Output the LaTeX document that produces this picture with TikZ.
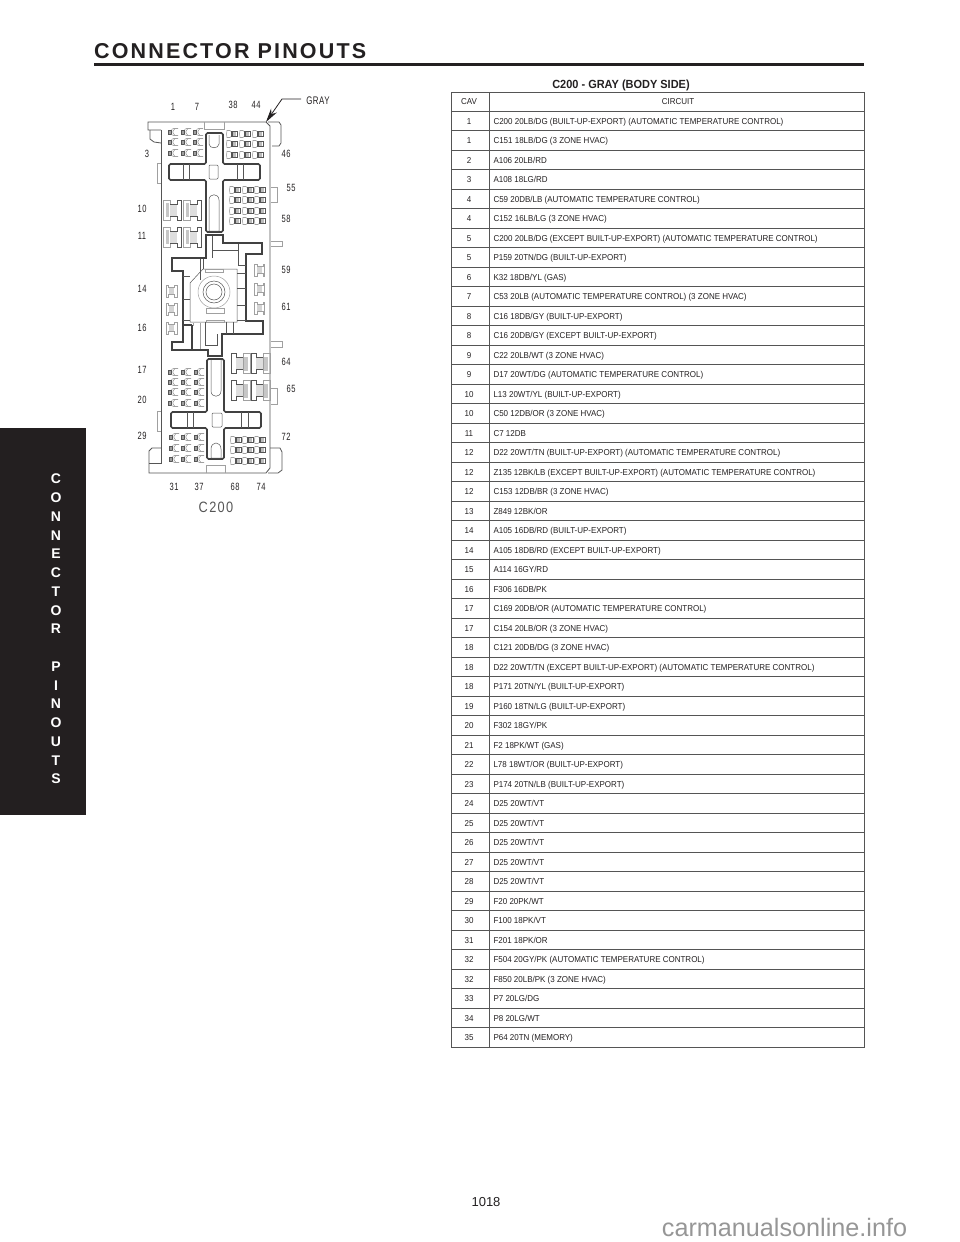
\documentclass[tikz,border=0pt]{standalone}
\usepackage{fontspec}
\usetikzlibrary{arrows.meta}
\setmainfont{Liberation Sans}
\newfontfamily\headfont[LetterSpace=10]{Liberation Sans}
\newfontfamily\narrowfont[FakeStretch=0.93]{Liberation Sans}
\newfontfamily\pinfont[FakeStretch=0.72,LetterSpace=5]{Liberation Sans}
\newfontfamily\wordfont[FakeStretch=0.85,LetterSpace=9]{Liberation Sans}
\definecolor{sidebar}{RGB}{35,31,32}
\definecolor{inkdark}{RGB}{35,32,33}
\definecolor{plastic}{RGB}{160,160,160}
\definecolor{housing}{RGB}{85,85,85}
\definecolor{wallthick}{RGB}{65,65,65}
\definecolor{watermark}{RGB}{150,150,150}
\tikzset{
    lowpin/.pic={
        \fill[plastic] (-5,-2.2) rectangle (-1.5,2.2);
        \draw[housing, line width=0.4] (-5,-2.2) rectangle (-1.5,2.2);
        \draw[plastic, line width=0.6] (-1.5,-2.5) -- (0.5,-3.5) -- (5,-3.5) (5,3.5) -- (0.5,3.5) -- (-1.5,2.5);
        \draw[plastic, line width=0.6] (2,-3.5) -- (0,-1) -- (0,1) -- (2,3.5);
    },
    boxpin/.pic={
        \draw[plastic, line width=0.6] (-1,-2.5) -- (-2,-3.5) -- (-5,-3.5) -- (-5.5,0) -- (-5,3.5) -- (-2,3.5) -- (-1,2.5);
        \fill[plastic!70] (0,-2) rectangle (3.5,2);
        \draw[housing, line width=0.5] (-1,-2.5) rectangle (5,2.5);
        \draw[housing, line width=0.5] (0.5,-2.5) -- (0.5,2.5);
    },
    fusepin/.pic={
        \draw[plastic, line width=0.6] (-9,-10) rectangle (-2,10);
        \fill[plastic!60] (-6.5,-7) rectangle (-3,7);
        \fill[plastic!35] (-2,-6) rectangle (5,6);
        \draw[housing, line width=0.6] (-2,-6) -- (5,-6) -- (5,-10) -- (9.5,-10) -- (9.5,10) -- (5,10) -- (5,6) -- (-2,6);
    },
    clippin/.pic={
        \fill[plastic!45] (-3,-3.5) rectangle (2,3.5);
        \draw[plastic, line width=0.7] (-5.5,-6) -- (-4,-6) -- (-4,-3.5) -- (2,-3.5) -- (2,-6) -- (5,-6) -- (5,6) -- (2,6) -- (2,3.5) -- (-4,3.5) -- (-4,6) -- (-5.5,6) -- cycle;
    }
}

\begin{document}
\begin{tikzpicture}[
    x=1pt, y=-1pt,
    wall/.style={housing, line width=0.8},
    rib/.style={wallthick, line width=1.6},
    thinrib/.style={housing, line width=0.5},
    tabline/.style={plastic, line width=0.7},
    pinlabel/.style={font=\pinfont\fontsize{10.5}{11}\selectfont, text=inkdark, inner sep=0pt},
    cell/.style={font=\narrowfont\fontsize{8.6}{9}\selectfont, text=inkdark, inner sep=0pt, text height=6.2pt, text depth=0pt},
    rule/.style={housing, line width=1}
]
    \useasboundingbox (0,0) rectangle (960,1242);

    % Page head
    \node[font=\headfont\bfseries\fontsize{21.5}{22}\selectfont, text=inkdark, anchor=base west, inner sep=0pt] (head) at (94,58) {CONNECTOR PINOUTS};
    \fill[inkdark] (94,62.5) rectangle (864,65.5);

    % Side tab
    \fill[sidebar] (0,428) rectangle (86,815);
    \foreach \letter [count=\i] in {C,O,N,N,E,C,T,O,R,{},P,I,N,O,U,T,S}
        \node[font=\bfseries\fontsize{14}{14}\selectfont, text=white, inner sep=0pt] (side\i) at (56,460.25+18.75*\i) {\letter};

    % Housing outline
    \draw[wall] (161,130) -- (148,130) -- (148,122) -- (266,122) -- (270,126) -- (270,468) -- (266,473) -- (149,473) -- (149,451) -- (152,448) -- (161,448);
    \draw[wall] (161,130) -- (161,463) -- (149,463);
    \draw[wall] (150,130) -- (150,139) -- (154,142) -- (161,143);

    % Tabs on the housing
    \draw[wall] (268,122) -- (279,122) -- (281,125) -- (281,143) -- (279,146) -- (272,146);
    \draw[wall] (270,448) -- (280,448) -- (282,452) -- (282,470) -- (278,473) -- (268,473);
    \draw[tabline] (204,122) -- (204,129) -- (224,129) -- (224,122);
    \draw[tabline] (206,473) -- (206,465) -- (225,465) -- (225,473);
    \draw[tabline] (161,163) -- (157,163) -- (157,183) -- (161,183);
    \draw[tabline] (161,411) -- (157,411) -- (157,431) -- (161,431);
    \draw[tabline] (271,187) -- (277,187) -- (277,202) -- (271,202);
    \draw[tabline] (271,241) -- (282,241) -- (282,246) -- (271,246);
    \draw[tabline] (271,341) -- (282,341) -- (282,347) -- (271,347);
    \draw[tabline] (271,388) -- (277,388) -- (277,404) -- (271,404);

    % Upper cross
    \draw[rib, rounded corners=1.5] (206,133) -- (223,133) -- (223,164) -- (260,164) -- (260,180) -- (223,180) -- (223,232) -- (206,232) -- (206,180) -- (169,180) -- (169,164) -- (206,164) -- cycle;
    \draw[thinrib] (209,135) -- (209,144) .. controls (209,149) and (219,149) .. (219,144) -- (219,135);
    \draw[thinrib, rounded corners=1] (209,165) rectangle (218,179);
    \draw[thinrib] (209,231) -- (209,200) .. controls (209,193) and (219,193) .. (219,200) -- (219,231) -- cycle;
    \draw[thinrib] (183,164) -- (183,180) (189,164) -- (189,180) (237,164) -- (237,180) (243,164) -- (243,180);

    % Lower cross
    \draw[rib, rounded corners=1.5] (207,359) -- (224,359) -- (224,412) -- (261,412) -- (261,428) -- (224,428) -- (224,459) -- (207,459) -- (207,428) -- (171,428) -- (171,412) -- (207,412) -- cycle;
    \draw[thinrib] (211,360) -- (211,391) .. controls (211,398) and (221,398) .. (221,391) -- (221,360);
    \draw[thinrib, rounded corners=1] (212,413) rectangle (222,427);
    \draw[thinrib] (211,458) -- (211,449) .. controls (211,441) and (221,441) .. (221,449) -- (221,458) -- cycle;
    \draw[thinrib] (187,412) -- (187,428) (193,412) -- (193,428) (241,412) -- (241,428) (248,412) -- (248,428);

    % Middle ribs
    \draw[rib] (183,300) -- (183,271) -- (172,271) -- (172,258) -- (206,258) -- (206,235) -- (223,235) -- (223,243) -- (262,243) -- (262,254) -- (246,254) -- (246,321) -- (263,321) -- (263,334) -- (222,334) -- (222,356) -- (208,356) -- (208,350) -- (172,350) -- (172,342) -- (183,342) -- (183,300);
    \draw[rib] (183,325) -- (192,325);
    \draw[rib] (192,325) -- (192,349);
    \draw[thinrib] (238,244) -- (238,265) -- (246,265);
    \draw[thinrib] (212,236) -- (212,250) -- (238,250);
    \draw[thinrib] (200,259) -- (200,280) (203,259) -- (203,269);
    \draw[thinrib] (212,250) -- (212,258);

    % Centre block
    \draw[thinrib] (190,283) -- (203,269) -- (237,269) -- (237,322) -- (190,322) -- cycle;
    \draw[thinrib, plastic] (214,292) circle (16pt);
    \draw[thinrib] (214,292) circle (11pt);
    \draw[thinrib] (214,292) circle (8pt);
    \draw[tabline] (205,269) rectangle (223,272);
    \draw[tabline] (206,308) rectangle (224,313);
    \draw[tabline] (206,320) rectangle (224,322);
    \draw[thinrib] (183,276) -- (190,276) (183,299) -- (190,299) (183,320) -- (190,320);
    \draw[thinrib] (237,273) -- (246,273) (237,288) -- (246,288) (237,305) -- (246,305) (237,320) -- (246,320);
    \draw[thinrib] (205,322) -- (205,345) -- (217,345) -- (217,334);
    \draw[tabline] (200,323) -- (200,349) (193,323) -- (193,326);
    \draw[thinrib] (226,322) -- (226,334) (233,322) -- (233,334);

    % Cavities
    \foreach \px in {173,186,198}
        \foreach \py in {132,142,153}
            \pic at (\px,\py) {lowpin};
    \foreach \px in {232,245,258}
        \foreach \py in {134,144,155}
            \pic at (\px,\py) {boxpin};
    \foreach \px in {235,248,260}
        \foreach \py in {190,200,211,221}
            \pic at (\px,\py) {boxpin};
    \foreach \px in {173,186,199}
        \foreach \py in {372,382,392,403}
            \pic at (\px,\py) {lowpin};
    \foreach \px in {174,186,199}
        \foreach \py in {437,448,459}
            \pic at (\px,\py) {lowpin};
    \foreach \px in {236,248,260}
        \foreach \py in {440,450,461}
            \pic at (\px,\py) {boxpin};
    \foreach \px in {172,192}
        \foreach \py in {210,237}
            \pic at (\px,\py) {fusepin};
    \foreach \px in {241,261}
        \foreach \py in {363.5,390.5}
            \pic[xscale=-1] at (\px,\py) {fusepin};
    \foreach \py in {291,309,328}
        \pic at (172,\py) {clippin};
    \foreach \py in {270,289,308}
        \pic[xscale=-1] at (259,\py) {clippin};

    % Cavity numbers
    \foreach \txt/\px/\py [count=\i] in {1/173/107,7/197/107,38/233/105,44/256/105,3/147/154,46/286/154,55/291/188,58/286/219,10/142/209,11/142/236,59/286/270,14/142/289,61/286/307,16/142/328,64/286/362,17/142/370,65/291/389,20/142/400,72/286/437,29/142/436,31/174/487,37/199/487,68/235/487,74/261/487}
        \node[pinlabel] (cavnum\i) at (\px,\py) {\txt};
    \node[font=\wordfont\fontsize{15}{15}\selectfont, text=housing, inner sep=0pt] (partname) at (216,507) {C200};

    % Colour callout
    \node[font=\pinfont\fontsize{11}{11}\selectfont, text=inkdark, inner sep=0pt] (colour) at (318,101) {GRAY};
    \coordinate (calloutelbow) at (282,99);
    \coordinate (callouttip) at (266,122);
    \draw[inkdark, line width=0.8, -{Stealth[length=14pt, width=7pt]}] (colour.west) ++(-5,-2) -- (calloutelbow) -- (callouttip);

    % Table
    \node[font=\narrowfont\bfseries\fontsize{11.8}{12}\selectfont, text=inkdark, inner sep=0pt] (tabletitle) at (621,85) {C200 - GRAY (BODY SIDE)};
    \foreach \k in {0,...,48}
        \draw[rule] (451,111.3+19.5*\k) -- (864,111.3+19.5*\k);
    \draw[rule] (451,92.3) rectangle (864,1047.3);
    \draw[rule] (489,92.3) -- (489,1047.3);
    \node[cell] (cavhead) at (469,101.5) {CAV};
    \node[cell] (circuithead) at (678,101.5) {CIRCUIT};
    \foreach \cav/\circuit [count=\r] in {
        1/{C200 20LB/DG (BUILT-UP-EXPORT) (AUTOMATIC TEMPERATURE CONTROL)},
        1/{C151 18LB/DG (3 ZONE HVAC)},
        2/{A106 20LB/RD},
        3/{A108 18LG/RD},
        4/{C59 20DB/LB (AUTOMATIC TEMPERATURE CONTROL)},
        4/{C152 16LB/LG (3 ZONE HVAC)},
        5/{C200 20LB/DG (EXCEPT BUILT-UP-EXPORT) (AUTOMATIC TEMPERATURE CONTROL)},
        5/{P159 20TN/DG (BUILT-UP-EXPORT)},
        6/{K32 18DB/YL (GAS)},
        7/{C53 20LB (AUTOMATIC TEMPERATURE CONTROL) (3 ZONE HVAC)},
        8/{C16 18DB/GY (BUILT-UP-EXPORT)},
        8/{C16 20DB/GY (EXCEPT BUILT-UP-EXPORT)},
        9/{C22 20LB/WT (3 ZONE HVAC)},
        9/{D17 20WT/DG (AUTOMATIC TEMPERATURE CONTROL)},
        10/{L13 20WT/YL (BUILT-UP-EXPORT)},
        10/{C50 12DB/OR (3 ZONE HVAC)},
        11/{C7 12DB},
        12/{D22 20WT/TN (BUILT-UP-EXPORT) (AUTOMATIC TEMPERATURE CONTROL)},
        12/{Z135 12BK/LB (EXCEPT BUILT-UP-EXPORT) (AUTOMATIC TEMPERATURE CONTROL)},
        12/{C153 12DB/BR (3 ZONE HVAC)},
        13/{Z849 12BK/OR},
        14/{A105 16DB/RD (BUILT-UP-EXPORT)},
        14/{A105 18DB/RD (EXCEPT BUILT-UP-EXPORT)},
        15/{A114 16GY/RD},
        16/{F306 16DB/PK},
        17/{C169 20DB/OR (AUTOMATIC TEMPERATURE CONTROL)},
        17/{C154 20LB/OR (3 ZONE HVAC)},
        18/{C121 20DB/DG (3 ZONE HVAC)},
        18/{D22 20WT/TN (EXCEPT BUILT-UP-EXPORT) (AUTOMATIC TEMPERATURE CONTROL)},
        18/{P171 20TN/YL (BUILT-UP-EXPORT)},
        19/{P160 18TN/LG (BUILT-UP-EXPORT)},
        20/{F302 18GY/PK},
        21/{F2 18PK/WT (GAS)},
        22/{L78 18WT/OR (BUILT-UP-EXPORT)},
        23/{P174 20TN/LB (BUILT-UP-EXPORT)},
        24/{D25 20WT/VT},
        25/{D25 20WT/VT},
        26/{D25 20WT/VT},
        27/{D25 20WT/VT},
        28/{D25 20WT/VT},
        29/{F20 20PK/WT},
        30/{F100 18PK/VT},
        31/{F201 18PK/OR},
        32/{F504 20GY/PK (AUTOMATIC TEMPERATURE CONTROL)},
        32/{F850 20LB/PK (3 ZONE HVAC)},
        33/{P7 20LG/DG},
        34/{P8 20LG/WT},
        35/{P64 20TN (MEMORY)}}
    {
        \node[cell] (cav\r) at (469,101.55+19.5*\r) {\cav};
        \node[cell, anchor=west] (circuit\r) at (493.3,101.55+19.5*\r) {\circuit};
    }

    % Page foot
    \node[font=\fontsize{13}{13}\selectfont, text=inkdark, inner sep=0pt] (pageno) at (486,1202) {1018};
    \node[font=\fontsize{25.2}{26}\selectfont, text=watermark, inner sep=0pt] (site) at (784.5,1227) {carmanualsonline.info};
\end{tikzpicture}
\end{document}
